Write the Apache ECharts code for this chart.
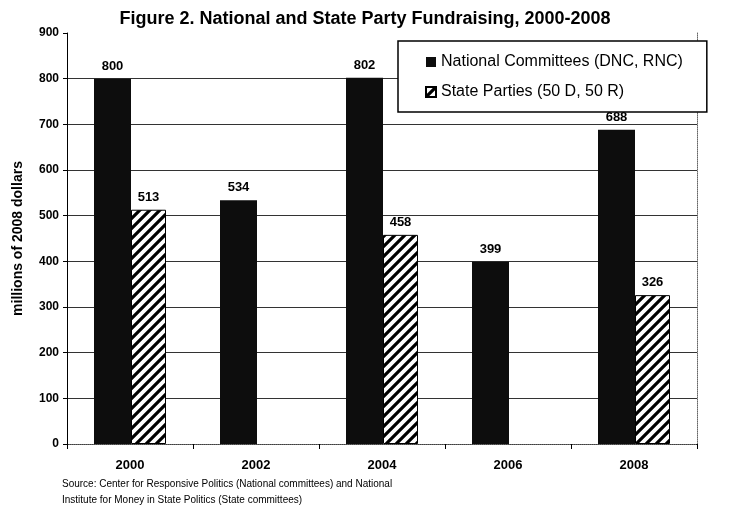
<!DOCTYPE html>
<html>
<head>
<meta charset="utf-8">
<script src="https://cdn.jsdelivr.net/npm/echarts@6/dist/echarts.min.js"></script>
<style>
  html, body { margin: 0; padding: 0; background: #fff; }
  #chart { width: 730px; height: 508px; }
</style>
</head>
<body>
<div id="chart"></div>
<script>
const years = ['2000', '2002', '2004', '2006', '2008'];
const national = [800, 534, 802, 399, 688];
const state = [513, null, 458, null, 326];
const yTicks = [0, 100, 200, 300, 400, 500, 600, 700, 800, 900];

// diagonal hatch for the state bars
function hatch() {
  const c = document.createElement('canvas');
  c.width = 10; c.height = 10;
  const g = c.getContext('2d');
  g.fillStyle = '#fff';
  g.fillRect(0, 0, 10, 10);
  g.strokeStyle = '#000';
  g.lineWidth = 3.2;
  g.beginPath();
  g.moveTo(-2, 12); g.lineTo(12, -2);
  g.moveTo(-7, 7); g.lineTo(7, -7);
  g.moveTo(3, 17); g.lineTo(17, 3);
  g.stroke();
  return c;
}
const pattern = { image: hatch(), repeat: 'repeat' };

const chart = echarts.init(document.getElementById('chart'));
const font = 'Arial, Liberation Sans';
const labelStyle = {
  show: true, position: 'top', distance: 6,
  fontFamily: font, fontWeight: 'bold', fontSize: 13, color: '#000'
};
// solid grid lines, the top one (900) left out: it is drawn dotted by the top axis
const splitColors = yTicks.map((v, i) => i === yTicks.length - 1 ? 'rgba(0,0,0,0)' : '#333');

chart.setOption({
  animation: false,
  title: {
    text: 'Figure 2. National and State Party Fundraising, 2000-2008',
    left: 'center', top: 5,
    textStyle: { fontFamily: font, fontWeight: 'bold', fontSize: 18, color: '#000' }
  },
  graphic: [{
    type: 'text', left: 62, top: 476,
    style: {
      text: 'Source: Center for Responsive Politics (National committees) and National\nInstitute for Money in State Politics (State committees)',
      font: '10px Arial, "Liberation Sans"', fill: '#000', lineHeight: 16
    }
  }],
  legend: {
    left: 398, top: 41, orient: 'vertical',
    padding: [13, 24, 12, 27], itemGap: 14,
    backgroundColor: '#fff', borderColor: '#000', borderWidth: 1.5,
    icon: 'rect', itemWidth: 10, itemHeight: 10,
    textStyle: { fontFamily: font, fontSize: 16, color: '#000' },
    data: ['National Committees (DNC, RNC)', 'State Parties (50 D, 50 R)']
  },
  grid: { left: 67, right: 33, top: 33, bottom: 64 },
  xAxis: [{
    type: 'category', data: years,
    axisLine: { lineStyle: { color: '#000', width: 1 } },
    axisTick: { show: true, length: 5, lineStyle: { color: '#000' } },
    axisLabel: { fontFamily: font, fontWeight: 'bold', fontSize: 13, color: '#000', margin: 15 }
  }, {
    type: 'category', data: years, position: 'top',
    axisLine: { show: true, lineStyle: { color: '#666', width: 1, type: 'dotted' } },
    axisTick: { show: false }, axisLabel: { show: false }
  }],
  yAxis: [{
    type: 'value', min: yTicks[0], max: yTicks[yTicks.length - 1], interval: 100,
    name: 'millions of 2008 dollars', nameLocation: 'middle', nameGap: 42, nameRotate: 90,
    nameTextStyle: { fontFamily: font, fontWeight: 'bold', fontSize: 14, color: '#000' },
    axisLine: { show: true, lineStyle: { color: '#000', width: 1 } },
    axisTick: { show: true, length: 4, lineStyle: { color: '#000' } },
    axisLabel: { fontFamily: font, fontWeight: 'bold', fontSize: 12, color: '#000', margin: 8 },
    splitLine: { lineStyle: { color: splitColors, width: 1 } }
  }, {
    type: 'value', min: yTicks[0], max: yTicks[yTicks.length - 1], interval: 100, position: 'right',
    axisLine: { show: true, lineStyle: { color: '#666', width: 1, type: 'dotted' } },
    axisTick: { show: false }, axisLabel: { show: false }, splitLine: { show: false }
  }],
  series: [
    {
      name: 'National Committees (DNC, RNC)', type: 'bar', data: national,
      barWidth: 37, barGap: '0%',
      itemStyle: { color: '#0d0d0d' },
      label: labelStyle
    },
    {
      name: 'State Parties (50 D, 50 R)', type: 'bar', data: state,
      barWidth: 35,
      itemStyle: { color: pattern, borderColor: '#000', borderWidth: 1 },
      label: labelStyle
    }
  ]
});
</script>
</body>
</html>
